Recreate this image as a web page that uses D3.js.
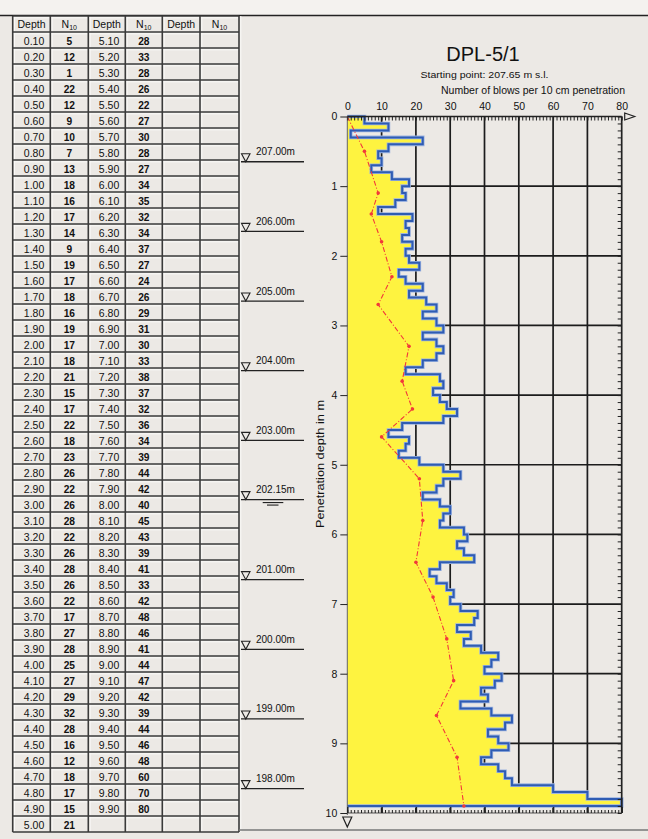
<!DOCTYPE html>
<html><head><meta charset="utf-8">
<script src="https://cdn.jsdelivr.net/npm/d3@7"></script>
<style>
html,body{margin:0;padding:0;background:#ece9e5;}
svg{display:block;font-family:"Liberation Sans",Arial,sans-serif;}
</style></head>
<body>
<svg id="c" width="648" height="839"></svg>
<script>
// ---------------- DATA ----------------
const depthsA = ["0.10","0.20","0.30","0.40","0.50","0.60","0.70","0.80","0.90","1.00","1.10","1.20","1.30","1.40","1.50","1.60","1.70","1.80","1.90","2.00","2.10","2.20","2.30","2.40","2.50","2.60","2.70","2.80","2.90","3.00","3.10","3.20","3.30","3.40","3.50","3.60","3.70","3.80","3.90","4.00","4.10","4.20","4.30","4.40","4.50","4.60","4.70","4.80","4.90","5.00"];
const blowsA  = [5,12,1,22,12,9,10,7,13,18,16,17,14,9,19,17,18,16,19,17,18,21,15,17,22,18,23,26,22,26,28,22,26,28,26,22,17,27,28,25,27,29,32,28,16,12,18,17,15,21];
const depthsB = ["5.10","5.20","5.30","5.40","5.50","5.60","5.70","5.80","5.90","6.00","6.10","6.20","6.30","6.40","6.50","6.60","6.70","6.80","6.90","7.00","7.10","7.20","7.30","7.40","7.50","7.60","7.70","7.80","7.90","8.00","8.10","8.20","8.30","8.40","8.50","8.60","8.70","8.80","8.90","9.00","9.10","9.20","9.30","9.40","9.50","9.60","9.70","9.80","9.90"];
const blowsB  = [28,33,28,26,22,27,30,28,27,34,35,32,34,37,27,24,26,29,31,30,33,38,37,32,36,34,39,44,42,40,45,43,39,41,33,42,48,46,41,44,47,42,39,44,46,48,60,70,80];
// dashed red trend line
const trendDepth = [0,0.5,1.1,1.4,1.8,2.3,2.7,3.3,3.8,4.2,4.6,5.2,5.8,6.4,6.9,7.5,8.1,8.6,9.2,9.9];
const trendValue = [0,5,9,7,10,13,9,18,16,19,10,21,22,20,25,29,31,26,32,34];
const xTicks = [0,10,20,30,40,50,60,70,80];
const yTicks = [0,1,2,3,4,5,6,7,8,9,10];
const startElevation = 207.65;
const elevations = [207,206,205,204,203,202.15,201,200,199,198];
const waterLevel = 202.15;
const headers = ["Depth","N","Depth","N","Depth","N"];
const titleText = "DPL-5/1";
const subtitleText = "Starting point: 207.65 m s.l.";
const xTitle = "Number of blows per 10 cm penetration";
const yTitle = "Penetration depth in m";

// ---------------- SETUP ----------------
const svg = d3.select("#c");
const x = d3.scaleLinear().domain([0,80]).range([347.3,621.7]);
const y = d3.scaleLinear().domain([0,10]).range([116.5,813]);

// top band
svg.append("rect").attr("x",0).attr("y",0).attr("width",648).attr("height",15).attr("fill","#f4f2ef");
svg.append("line").attr("x1",0).attr("x2",648).attr("y1",15.5).attr("y2",15.5).attr("stroke","#222").attr("stroke-width",1.5);

// ---------------- TABLE ----------------
const colX = [12.7,50.3,88.3,125.3,162.3,200,239];
const rowTop = 16, rowH = 16, nRows = 51;
const tbl = svg.append("g");
tbl.append("rect").attr("x",colX[0]).attr("y",rowTop).attr("width",colX[6]-colX[0]).attr("height",rowH*nRows).attr("fill","#ece9e5");
for(let r=0;r<nRows;r++){
  tbl.append("line").attr("x1",colX[0]).attr("x2",colX[6]).attr("y1",rowTop+r*rowH+1.8).attr("y2",rowTop+r*rowH+1.8).attr("stroke","#fbfaf8").attr("stroke-width",1);
}
colX.forEach(cx=>{
  tbl.append("line").attr("x1",cx+1.8).attr("x2",cx+1.8).attr("y1",rowTop).attr("y2",rowTop+rowH*nRows).attr("stroke","#fbfaf8").attr("stroke-width",1);
});
for(let r=0;r<=nRows;r++){
  tbl.append("line").attr("x1",colX[0]).attr("x2",colX[6]).attr("y1",rowTop+r*rowH).attr("y2",rowTop+r*rowH).attr("stroke","#3a3a3a").attr("stroke-width",1.6);
}
colX.forEach(cx=>{
  tbl.append("line").attr("x1",cx).attr("x2",cx).attr("y1",rowTop).attr("y2",rowTop+rowH*nRows).attr("stroke","#3a3a3a").attr("stroke-width",1.6);
});
headers.forEach((h,i)=>{
  const cx=(colX[i]+colX[i+1])/2;
  const t=tbl.append("text").attr("x",cx).attr("y",rowTop+12).attr("text-anchor","middle").attr("font-size",10.5).attr("fill","#111");
  if(h==="N"){ t.append("tspan").text("N"); t.append("tspan").attr("font-size",7).attr("dy",1.5).text("10"); }
  else t.text(h);
});
function rowsFor(depths, blows, c){
  depths.forEach((d,i)=>{
    const ty = rowTop+(i+1)*rowH+12.5;
    tbl.append("text").attr("x",colX[c+1]-6).attr("y",ty).attr("text-anchor","end").attr("font-size",10.5).attr("fill","#111").text(d);
    tbl.append("text").attr("x",(colX[c+1]+colX[c+2])/2).attr("y",ty).attr("text-anchor","middle").attr("font-size",10.2).attr("font-weight","bold").attr("fill","#111").text(blows[i]);
  });
}
rowsFor(depthsA,blowsA,0);
rowsFor(depthsB,blowsB,2);

// ---------------- CHART ----------------
const g = svg.append("g");
g.selectAll(".vg").data(xTicks.filter(v=>v>0&&v<80)).join("line")
  .attr("x1",d=>x(d)).attr("x2",d=>x(d)).attr("y1",y(0)).attr("y2",y(10)).attr("stroke","#1c1c1c").attr("stroke-width",1.7);
g.selectAll(".hg").data(yTicks.filter(v=>v>0&&v<10)).join("line")
  .attr("x1",x(0)).attr("x2",x(80)).attr("y1",d=>y(d)).attr("y2",d=>y(d)).attr("stroke","#1c1c1c").attr("stroke-width",1.7);

const allDepths = depthsA.concat(depthsB).map(Number);
const allBlows = blowsA.concat(blowsB);
let p = `M${x(0)},${y(0)}`;
allDepths.forEach((d,i)=>{ p += `H${x(allBlows[i])}V${y(d)}`; });
p += `H${x(0)}`;
g.append("path").attr("d",p+"Z").attr("fill","#fef340").attr("stroke","none");
g.append("path").attr("d",p).attr("fill","none").attr("stroke","#9db4e0").attr("stroke-width",3.6).attr("stroke-linejoin","miter");
g.append("path").attr("d",p).attr("fill","none").attr("stroke","#2f5cb3").attr("stroke-width",2).attr("stroke-linejoin","miter");

const pts = trendDepth.map((d,i)=>[trendValue[i],d]);
g.append("path").datum(pts).attr("d",d3.line().x(d=>x(d[0])).y(d=>y(d[1])))
  .attr("fill","none").attr("stroke","#f2383a").attr("stroke-width",1.1).attr("stroke-dasharray","5,2,1,2");
g.selectAll(".dot").data(pts.slice(1)).join("circle")
  .attr("cx",d=>x(d[0])).attr("cy",d=>y(d[1])).attr("r",1.8).attr("fill","#f2383a");

g.append("line").attr("x1",x(0)).attr("x2",x(80)).attr("y1",y(0)).attr("y2",y(0)).attr("stroke","#222").attr("stroke-width",1.5);
g.append("line").attr("x1",x(80)).attr("x2",x(80)).attr("y1",y(0)).attr("y2",y(10)).attr("stroke","#222").attr("stroke-width",1.7);
g.append("line").attr("x1",x(0)).attr("x2",x(80)).attr("y1",y(10)).attr("y2",y(10)).attr("stroke","#555").attr("stroke-width",1.2);
g.append("line").attr("x1",x(0)).attr("x2",x(0)).attr("y1",y(0)).attr("y2",y(10)+2).attr("stroke","#666").attr("stroke-width",1);

g.append("g").attr("transform",`translate(0,${y(0)})`)
  .call(d3.axisBottom(x).tickValues(d3.range(0,81,1)).tickSize(4).tickFormat(""))
  .call(s=>{s.select(".domain").remove(); s.selectAll("line").attr("stroke","#222").attr("stroke-width",1);});
g.append("g").attr("transform",`translate(0,${y(0)-4})`)
  .call(d3.axisTop(x).tickValues(xTicks).tickSize(0).tickPadding(3))
  .call(s=>{s.select(".domain").remove(); s.selectAll("text").attr("font-size",10.5).attr("fill","#111").attr("font-family","Liberation Sans, Arial");});
g.append("g").attr("transform",`translate(0,${y(10)})`)
  .call(d3.axisTop(x).tickValues(d3.range(0,81,1)).tickSize(3).tickFormat(""))
  .call(s=>{s.select(".domain").remove(); s.selectAll("line").attr("stroke","#222").attr("stroke-width",1);});
g.append("g").attr("transform",`translate(0,${y(10)})`)
  .call(d3.axisTop(x).tickValues(xTicks).tickSize(6).tickFormat(""))
  .call(s=>{s.select(".domain").remove(); s.selectAll("line").attr("stroke","#222").attr("stroke-width",1.5);});
g.append("g").attr("transform",`translate(${x(80)},0)`)
  .call(d3.axisLeft(y).tickValues(d3.range(0,101,1).map(v=>v/10)).tickSize(4).tickFormat(""))
  .call(s=>{s.select(".domain").remove(); s.selectAll("line").attr("stroke","#222").attr("stroke-width",1);});
g.append("g").attr("transform",`translate(${x(0)},0)`)
  .call(d3.axisLeft(y).tickValues(yTicks).tickSize(7).tickPadding(3))
  .call(s=>{s.select(".domain").remove(); s.selectAll("line").attr("stroke","#222").attr("stroke-width",1);
           s.selectAll("text").attr("font-size",10.5).attr("fill","#111").attr("font-family","Liberation Sans, Arial");});

g.append("path").attr("d",`M${x(80)+3},${y(0)-3.5}L${x(80)+13},${y(0)}L${x(80)+3},${y(0)+3.5}Z`).attr("fill","#ece9e5").attr("stroke","#222").attr("stroke-width",1.2);
g.append("path").attr("d",`M${x(0)-4.5},${y(10)+4}L${x(0)+4.5},${y(10)+4}L${x(0)},${y(10)+14}Z`).attr("fill","#ece9e5").attr("stroke","#222").attr("stroke-width",1.2);

svg.append("text").attr("x",483).attr("y",61).attr("text-anchor","middle").attr("font-size",20).attr("fill","#111").text(titleText);
svg.append("text").attr("x",484.5).attr("y",77.5).attr("text-anchor","middle").attr("font-size",9.5).attr("fill","#111")
  .attr("textLength",128).attr("lengthAdjust","spacingAndGlyphs").text(subtitleText);
svg.append("text").attr("x",533).attr("y",93.5).attr("text-anchor","middle").attr("font-size",10).attr("fill","#111")
  .attr("textLength",184).attr("lengthAdjust","spacingAndGlyphs").text(xTitle);
svg.append("text").attr("transform","translate(324,528) rotate(-90)").attr("text-anchor","start").attr("font-size",10).attr("fill","#111")
  .attr("textLength",128).attr("lengthAdjust","spacingAndGlyphs").text(yTitle);

const em = svg.append("g");
elevations.forEach(e=>{
  const ly = y(startElevation - e);
  em.append("path").attr("d",`M241.5,${ly-8}L250,${ly-8}L245.8,${ly}Z`).attr("fill","none").attr("stroke","#222").attr("stroke-width",1.1);
  em.append("line").attr("x1",241).attr("x2",304).attr("y1",ly).attr("y2",ly).attr("stroke","#222").attr("stroke-width",1.3);
  em.append("text").attr("x",256).attr("y",ly-6.5).attr("font-size",10).attr("fill","#111").text(e.toFixed(2)+"m");
  if(e===waterLevel){
    em.append("line").attr("x1",262.7).attr("x2",283.3).attr("y1",ly+3).attr("y2",ly+3).attr("stroke","#222").attr("stroke-width",1.1);
    em.append("line").attr("x1",267).attr("x2",278.5).attr("y1",ly+5.5).attr("y2",ly+5.5).attr("stroke","#222").attr("stroke-width",1.1);
  }
});

svg.append("line").attr("x1",239).attr("x2",648).attr("y1",830).attr("y2",830).attr("stroke","#777").attr("stroke-width",1.5);
</script>
</body></html>
